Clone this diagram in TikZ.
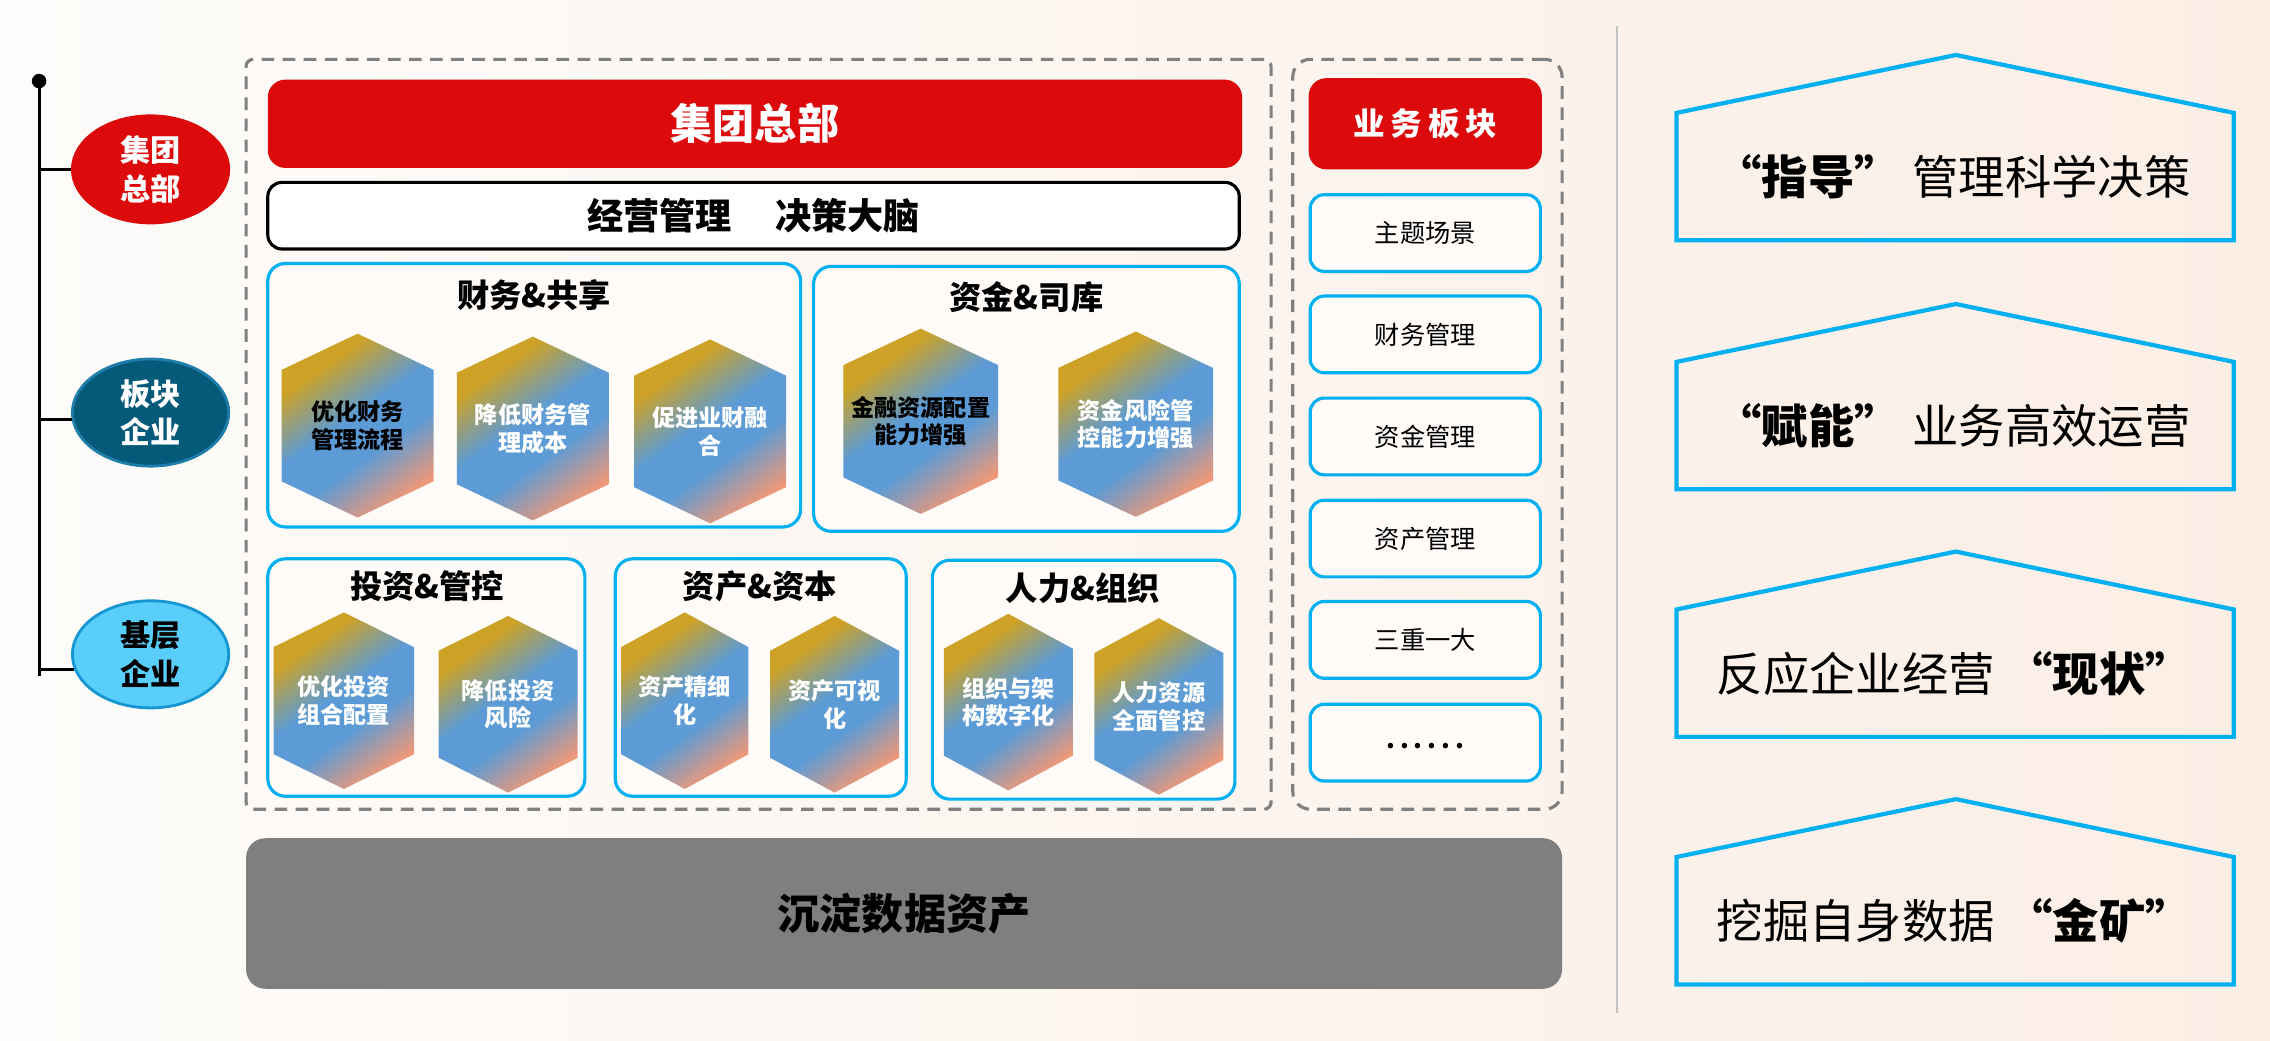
\documentclass[tikz,border=0pt]{standalone}
\usepackage{fontspec}
\setmainfont{Noto Sans CJK SC}
\usetikzlibrary{shapes.geometric}
\definecolor{hqred}{RGB}{220,10,10}
\definecolor{bkteal}{RGB}{5,90,122}
\definecolor{bktealline}{RGB}{30,125,170}
\definecolor{jclight}{RGB}{90,206,250}
\definecolor{jcline}{RGB}{20,150,210}
\definecolor{cyanline}{RGB}{0,176,240}
\definecolor{dashgray}{RGB}{128,128,128}
\definecolor{basegray}{RGB}{127,127,127}
\definecolor{sepgray}{RGB}{195,195,195}
\definecolor{hgold}{RGB}{205,162,38}
\definecolor{hblue}{RGB}{92,155,213}
\definecolor{hsalmon}{RGB}{238,152,120}
\definecolor{bgl}{RGB}{253,252,250}
\definecolor{bgr}{RGB}{251,238,229}
\definecolor{panelfill}{RGB}{254,251,249}
\pgfdeclareverticalshading{hexshade}{100bp}{color(0bp)=(hsalmon); color(25bp)=(hsalmon); color(41bp)=(hblue); color(53bp)=(hblue); color(70bp)=(hgold); color(100bp)=(hgold)}
\newcommand\PX{0.0145cm}
\tikzset{
  sz/.style 2 args={minimum width={#1*\PX}, minimum height={#2*\PX}},
  ell/.style={ellipse, inner sep=0pt, align=center, line width=0.8pt, font=\bfseries\fontsize{8.6}{11}\selectfont},
  dashbox/.style={draw=dashgray, dash pattern=on 3.6pt off 2.4pt, line width=0.9pt, inner sep=0pt},
  redbar/.style={fill=hqred, text=white, inner sep=0pt},
  panel/.style={draw=cyanline, fill=panelfill, line width=0.9pt, rounded corners=5pt, inner sep=0pt},
  ptitle/.style={font=\bfseries\fontsize{9.2}{11}\selectfont, inner sep=0pt},
  hextext/.style={font=\bfseries\fontsize{6.6}{7.9}\selectfont, align=center, inner sep=0pt},
  itembox/.style={draw=cyanline, fill=panelfill, line width=0.9pt, rounded corners=4pt, inner sep=0pt, font=\fontsize{7.2}{9}\selectfont},
  house/.style={draw=cyanline, line width=1.2pt, line join=miter},
  housetext/.style={font=\fontsize{13.2}{15}\selectfont, inner sep=0pt},
}
\newcommand\hexnode[7]{%
  \shade[shift={(#2,#3)}, shading=hexshade, shading angle=35]
    (0,{-#5/2}) -- ({#4/2},{-#5/2+0.197*#5}) -- ({#4/2},{#5/2-0.197*#5}) -- (0,{#5/2})
    -- ({-#4/2},{#5/2-0.197*#5}) -- ({-#4/2},{-#5/2+0.197*#5}) -- cycle;
  \node[hextext, text=#6] (#1) at (#2,#3) {#7};}
\newcommand\dotbox{\makebox[3.95pt]{\bfseries .}}
\begin{document}
\begin{tikzpicture}[x=0.0145cm, y=-0.0145cm]
% background
\shade[left color=bgl, right color=bgr] (0,0) rectangle (1568,718.4);
\useasboundingbox (0,0) rectangle (1568,718.4);

% left spine
\node[circle, fill=black, inner sep=0pt, minimum size={10*\PX}] (dot) at (27,56) {};
\coordinate (spinebot) at (27,467);
\draw[line width=0.9pt] (dot.center) -- (spinebot);
\node[ell, sz={108}{74}, fill=hqred, draw=hqred, text=white] (e1) at (104,117) {集团\\总部};
\node[ell, sz={108}{74}, fill=bkteal, draw=bktealline, text=white] (e2) at (104,285) {板块\\企业};
\node[ell, sz={108}{74}, fill=jclight, draw=jcline, text=black] (e3) at (104,452) {基层\\企业};
\draw[line width=0.9pt] (dot |- e1.west) -- (e1.west);
\draw[line width=0.9pt] (dot |- e2.185) -- (e2.185);
\draw[line width=0.9pt] (dot |- e3.191) -- (e3.191);

% main dashed frame
\node[dashbox, sz={708}{518}, rounded corners=2pt] (mainbox) at (524,300) {};
\node[dashbox, sz={186}{518}, rounded corners=5pt] (sidebox) at (986,300) {};

% HQ banner and brain bar
\node[redbar, sz={673}{61}, rounded corners=5pt, font=\bfseries\fontsize{12}{14}\selectfont] (hq) at (521.5,85.5) {集团总部};
\node[draw=black, fill=white, line width=0.9pt, rounded corners=4pt, inner sep=0pt, sz={671}{46},
      font=\bfseries\fontsize{10.3}{12}\selectfont] (brain) at (520.5,149) {经营管理\hspace{1.2em}决策大脑};

% panels
\node[panel, sz={368}{182}] (p1) at (369,273) {};
\node[panel, sz={294}{183}] (p2) at (709,275.5) {};
\node[panel, sz={219}{164}] (p3) at (294.5,468) {};
\node[panel, sz={201}{164}] (p4) at (525.5,468) {};
\node[panel, sz={209}{165}] (p5) at (748.5,469.5) {};
\node[ptitle] (p1t) at (369,204) {财务\&共享};
\node[ptitle] (p2t) at (709,205) {资金\&司库};
\node[ptitle] (p3t) at (295,405) {投资\&管控};
\node[ptitle] (p4t) at (525,405) {资产\&资本};
\node[ptitle] (p5t) at (748,406) {人力\&组织};

% hexagons
\hexnode{h1}{247}{294}{105}{127}{black}{优化财务\\管理流程}
\hexnode{h2}{368}{296}{105}{127}{white}{降低财务管\\理成本}
\hexnode{h3}{490.5}{298}{105}{127}{white}{促进业财融\\合}
\hexnode{h4}{636}{291}{107}{128}{black}{金融资源配置\\能力增强}
\hexnode{h5}{784.5}{293}{107}{128}{white}{资金风险管\\控能力增强}
\hexnode{h6}{237.5}{484}{97}{122}{white}{优化投资\\组合配置}
\hexnode{h7}{351}{486.5}{96}{122}{white}{降低投资\\风险}
\hexnode{h8}{473}{484}{88}{122}{white}{资产精细\\化}
\hexnode{h9}{576.5}{486.5}{89}{122}{white}{资产可视\\化}
\hexnode{h10}{696.5}{485}{89}{122}{white}{组织与架\\构数字化}
\hexnode{h11}{800.5}{488}{89}{122}{white}{人力资源\\全面管控}

% business column
\node[redbar, sz={161}{63}, rounded corners=5pt, font=\bfseries\fontsize{9}{11}\selectfont] (biz) at (984.5,85.5)
  {业\hspace{1.6pt}务\hspace{1.6pt}板\hspace{1.6pt}块};
\node[itembox, sz={159}{53}] (b1) at (984.5,161) {主题场景};
\node[itembox, sz={159}{53}] (b2) at (984.5,231) {财务管理};
\node[itembox, sz={159}{53}] (b3) at (984.5,301.5) {资金管理};
\node[itembox, sz={159}{53}] (b4) at (984.5,372) {资产管理};
\node[itembox, sz={159}{53}] (b5) at (984.5,442) {三重一大};
\node[itembox, sz={159}{53}] (b6) at (984.5,513) {\strut\dotbox\dotbox\dotbox\dotbox\dotbox\dotbox};

% base layer
\node[fill=basegray, rounded corners=5.5pt, inner sep=0pt, sz={909}{104},
      font=\bfseries\fontsize{12}{14}\selectfont] (base) at (624.5,631) {沉淀数据资产};

% separator
\coordinate (septop) at (1117,18);
\coordinate (sepbot) at (1117,700);
\draw[sepgray, line width=0.7pt] (septop) -- (sepbot);

% houses
\draw[house] (1158,166) -- (1158,78) -- (1351,38) -- (1543,78) -- (1543,166) -- cycle;
\draw[house] (1158,338) -- (1158,250) -- (1351,210) -- (1543,250) -- (1543,338) -- cycle;
\draw[house] (1158,509) -- (1158,421) -- (1351,381) -- (1543,421) -- (1543,509) -- cycle;
\draw[house] (1158,680) -- (1158,592) -- (1351,552) -- (1543,592) -- (1543,680) -- cycle;
\node[housetext] (t1) at (1349,122) {{\bfseries “指导”}\hspace{0.25em}管理科学决策};
\node[housetext] (t2) at (1349,294) {{\bfseries “赋能”}\hspace{0.25em}业务高效运营};
\node[housetext] (t3) at (1350,465) {反应企业经营\hspace{0.25em}{\bfseries “现状”}};
\node[housetext] (t4) at (1350,636) {挖掘自身数据\hspace{0.25em}{\bfseries “金矿”}};
\end{tikzpicture}
\end{document}
